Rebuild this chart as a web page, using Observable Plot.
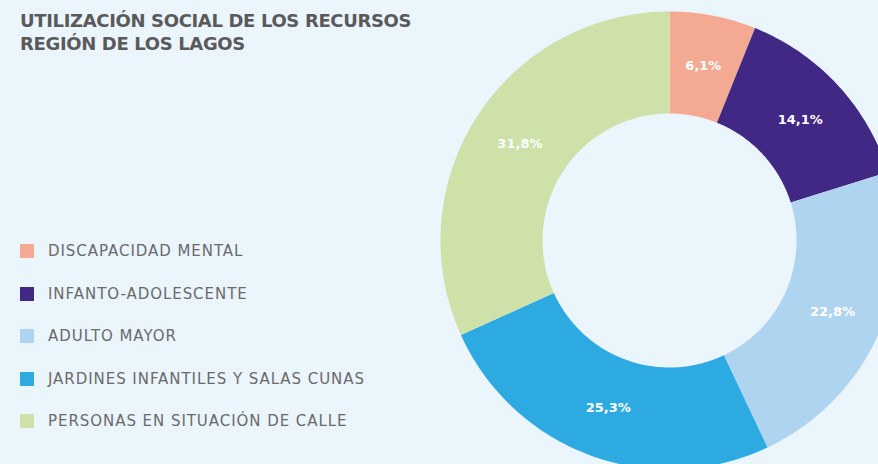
<!DOCTYPE html>
<html>
<head>
<meta charset="utf-8">
<script src="https://cdn.jsdelivr.net/npm/d3@7"></script>
<script src="https://cdn.jsdelivr.net/npm/@observablehq/plot@0.6"></script>
<style>
  html, body { margin: 0; padding: 0; background: #EBF5FC; overflow: hidden; }
  #wrap { position: relative; width: 878px; height: 464px; }
  #title { position: absolute; left: 20px; top: 9px; font-family: "DejaVu Sans", sans-serif; font-weight: bold;
           font-size: 18px; line-height: 23px; color: #5a5a5a; letter-spacing: -0.35px; }
  #legend { position: absolute; left: 20px; top: 230px; font-family: "DejaVu Sans", sans-serif; font-size: 15px;
            color: #6a6a6a; letter-spacing: 0.95px; }
  .row { display: flex; align-items: center; height: 42.5px; }
  .sw { width: 14px; height: 14px; margin-right: 14px; flex: none; }
  #chart { position: absolute; left: 0; top: 0; }
</style>
</head>
<body>
<div id="wrap">
  <div id="chart"></div>
  <div id="title">UTILIZACIÓN SOCIAL DE LOS RECURSOS<br>REGIÓN DE LOS LAGOS</div>
  <div id="legend"></div>
</div>
<script>
const categories = ["DISCAPACIDAD MENTAL", "INFANTO-ADOLESCENTE", "ADULTO MAYOR", "JARDINES INFANTILES Y SALAS CUNAS", "PERSONAS EN SITUACIÓN DE CALLE"];
const values = [6.1, 14.1, 22.8, 25.3, 31.8];
const labels = ["6,1%", "14,1%", "22,8%", "25,3%", "31,8%"];
const colors = ["#F4A992", "#412884", "#AFD4F0", "#2DAAE1", "#CDE1A9"];

const innerR = 127 / 229;
const pie = d3.pie().sort(null).value(d => d)(values);

const poly = [];
const labelPts = [];
pie.forEach((p, i) => {
  const n = Math.max(8, Math.ceil((p.endAngle - p.startAngle) * 180 / Math.PI));
  const outer = [], inner = [];
  for (let k = 0; k <= n; k++) {
    const a = p.startAngle + (p.endAngle - p.startAngle) * k / n;
    outer.push({cat: categories[i], x: Math.sin(a), y: Math.cos(a)});
    inner.push({cat: categories[i], x: Math.sin(a) * innerR, y: Math.cos(a) * innerR});
  }
  poly.push(...outer, ...inner.reverse());
  const m = (p.startAngle + p.endAngle) / 2;
  const lr = (1 + innerR) / 2;
  labelPts.push({label: labels[i], x: Math.sin(m) * lr, y: Math.cos(m) * lr});
});

const chart = Plot.plot({
  width: 878,
  height: 464,
  margin: 0,
  style: {background: "transparent", overflow: "visible"},
  x: {domain: [-1, 1], range: [440, 898], axis: null},
  y: {domain: [-1, 1], range: [469, 11], axis: null},
  color: {domain: categories, range: colors},
  marks: [
    Plot.line(poly, {x: "x", y: "y", z: "cat", fill: "cat", stroke: null, curve: "linear-closed"}),
    Plot.text(labelPts, {x: "x", y: "y", text: "label", fill: "white", fontWeight: "bold",
      fontSize: 13, fontFamily: "DejaVu Sans, sans-serif", letterSpacing: "-0.7px"})
  ]
});
document.getElementById("chart").appendChild(chart);

const legend = d3.select("#legend");
categories.forEach((c, i) => {
  const row = legend.append("div").attr("class", "row");
  row.append("div").attr("class", "sw").style("background", colors[i]);
  row.append("span").text(c);
});
</script>
</body>
</html>
